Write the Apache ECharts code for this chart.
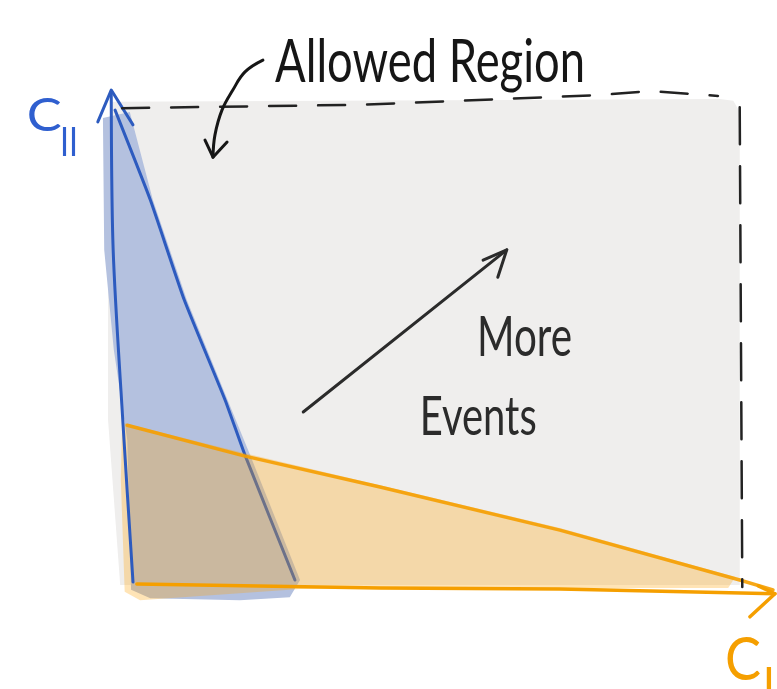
<!DOCTYPE html>
<html><head><meta charset="utf-8">
<script src="https://cdn.jsdelivr.net/npm/echarts@6/dist/echarts.min.js"></script>
<style>html,body{margin:0;padding:0;background:#fff}#c{width:777px;height:689px}</style>
</head><body><div id="c"></div>
<script>
// Sketch coordinates in abstract units (C_I on x, C_II on y, both 0..10)
const grayX = [-0.20, -0.39, -0.39, -0.33, 9.17, 9.38, 9.48, 9.48];
const grayY = [-0.04, 3.33, 6.80, 9.82, 9.88, 9.84, 9.61, -0.04];

const dashTopX = [-0.17, 3.55, 7.30, 8.08, 9.14];
const dashTopY = [9.69, 9.76, 9.96, 10.04, 9.94];
const dashRightX = [9.48, 9.52];
const dashRightY = [9.71, -0.08];

const blueFillX = [-0.47, -0.05, 0.31, 0.84, 1.48, 1.83, 2.61, 2.45, 1.67, 0.27, -0.03, -0.09, -0.30, -0.45];
const blueFillY = [9.49, 9.61, 7.82, 5.78, 3.73, 2.61, 0.06, -0.29, -0.35, -0.31, -0.14, 2.92, 4.76, 6.80];

const yAxisLineX = [0, -0.16, -0.31, -0.34];
const yAxisLineY = [0.02, 3.33, 6.80, 10.04];
const yArrowX = [-0.55, -0.34, 0];
const yArrowY = [9.41, 10.06, 9.35];

const blueEdgeX = [-0.28, 0.27, 0.80, 1.44, 1.75, 2.53];
const blueEdgeY = [9.65, 7.82, 5.78, 3.73, 2.61, 0.06];

const orangeFillX = [-0.17, 1.75, 6.67, 9.41, 9.30, 6.67, 2.61, 0.11, -0.13, -0.19];
const orangeFillY = [3.27, 2.65, 1.12, 0.12, -0.10, -0.10, -0.12, -0.35, -0.18, 2.10];

const orangeEdgeX = [-0.09, 1.75, 3.86, 6.67, 9.48, 10.0];
const orangeEdgeY = [3.22, 2.59, 1.96, 1.08, 0.06, -0.14];

const xAxisLineX = [0.06, 3.86, 6.67, 10.03];
const xAxisLineY = [-0.02, -0.10, -0.12, -0.22];
const xArrowX = [9.77, 10.03, 9.64];
const xArrowY = [-0.06, -0.22, -0.69];

const allowedArrowX = [2.03, 1.75, 1.56, 1.39, 1.28, 1.25];
const allowedArrowY = [10.67, 10.43, 10.06, 9.65, 9.14, 8.69];
const allowedHeadX = [1.125, 1.25, 1.47];
const allowedHeadY = [9.04, 8.69, 9.00];

const moreArrowX = [2.66, 5.84];
const moreArrowY = [3.49, 6.80];
const moreHeadX = [5.47, 5.84, 5.70];
const moreHeadY = [6.59, 6.80, 6.24];

// text labels, anchored at their left edge / vertical middle
const textLabels = ['Allowed Region', 'More', 'Events', 'C', 'II', 'C', 'I'];
const textX = [2.22, 5.375, 4.48, -1.66, -1.14, 9.25, 9.84];
const textY = [10.61, 5.00, 3.37, 9.53, 8.98, -1.59, -2.08];

const BLUE = '#2d5bbf', ORANGE = '#f59f00', INK = '#161616';
const FONT = "Lato, 'Liberation Sans', sans-serif";
const textStyles = [
  {fontSize: 60, color: INK, width: 310},
  {fontSize: 56, color: '#2b2b2b', width: 95},
  {fontSize: 54, color: '#2b2b2b', width: 117},
  {fontSize: 46, color: '#2f5fcf', width: 35},
  {fontSize: 40, color: '#2f5fcf', width: 18},
  {fontSize: 60, color: ORANGE, width: 36},
  {fontSize: 44, color: ORANGE, width: 0}
];

const measureCtx = document.createElement('canvas').getContext('2d');
function textScale(t, st) {
  if (!st.width) return 1;
  measureCtx.font = st.fontSize + 'px ' + FONT;
  return st.width / measureCtx.measureText(t).width;
}

function pts(xs, ys) { return xs.map((x, i) => [x, ys[i]]); }

function polygonSeries(xs, ys, fill, z) {
  const data = pts(xs, ys);
  return {
    type: 'custom', coordinateSystem: 'cartesian2d', clip: false, silent: true, z: z,
    data: data,
    renderItem: function (params, api) {
      if (params.dataIndex !== 0) return null;
      return {type: 'polygon', shape: {points: data.map(p => api.coord(p))}, style: {fill: fill}};
    }
  };
}
function polylineSeries(xs, ys, color, width, z, opts) {
  const data = pts(xs, ys);
  opts = opts || {};
  return {
    type: 'custom', coordinateSystem: 'cartesian2d', clip: false, silent: true, z: z,
    data: data,
    renderItem: function (params, api) {
      if (params.dataIndex !== 0) return null;
      return {
        type: 'polyline',
        shape: {points: data.map(p => api.coord(p)), smooth: opts.smooth || 0},
        style: {stroke: color, lineWidth: width, fill: null, lineCap: 'round', lineJoin: 'round',
          lineDash: opts.dash || null, opacity: opts.opacity == null ? 1 : opts.opacity}
      };
    }
  };
}

const textSeries = {
  type: 'custom', coordinateSystem: 'cartesian2d', clip: false, silent: true, z: 20,
  data: pts(textX, textY),
  renderItem: function (params, api) {
    const i = params.dataIndex;
    const st = textStyles[i];
    const p = api.coord([textX[i], textY[i]]);
    return {
      type: 'text', x: p[0], y: p[1], scaleX: textScale(textLabels[i], st),
      style: {text: textLabels[i], fill: st.color, font: st.fontSize + 'px ' + FONT,
        textAlign: 'left', textVerticalAlign: 'middle', align: 'left', verticalAlign: 'middle'}
    };
  }
};

const series = [
  polygonSeries(grayX, grayY, '#efeeed', 1),
  polygonSeries(blueFillX, blueFillY, '#b4c1df', 2),
  polylineSeries(blueEdgeX, blueEdgeY, BLUE, 3, 3, {smooth: 0.15}),
  polygonSeries(orangeFillX, orangeFillY, 'rgba(254,165,13,0.3)', 4),
  polylineSeries(orangeEdgeX, orangeEdgeY, ORANGE, 3.5, 5, {opacity: 0.9}),
  polylineSeries(xAxisLineX, xAxisLineY, ORANGE, 3.5, 5),
  polylineSeries(xArrowX, xArrowY, ORANGE, 3.5, 5),
  polylineSeries(yAxisLineX, yAxisLineY, BLUE, 3, 6, {smooth: 0.3}),
  polylineSeries(yArrowX, yArrowY, BLUE, 3, 6),
  polylineSeries(dashTopX, dashTopY, '#222', 2.5, 7, {dash: [27, 22]}),
  polylineSeries(dashRightX, dashRightY, '#222', 2.5, 7, {dash: [37, 22]}),
  polylineSeries(allowedArrowX, allowedArrowY, INK, 3, 8, {smooth: 0.4}),
  polylineSeries(allowedHeadX, allowedHeadY, INK, 3, 8),
  polylineSeries(moreArrowX, moreArrowY, '#2b2b2b', 3, 8),
  polylineSeries(moreHeadX, moreHeadY, '#2b2b2b', 3, 8),
  textSeries
];

const chart = echarts.init(document.getElementById('c'), null, {renderer: 'canvas'});
chart.setOption({
  animation: false,
  backgroundColor: '#ffffff',
  grid: {left: 133, right: 4, top: 93, bottom: 106},
  xAxis: {type: 'value', min: 0, max: 10, show: false},
  yAxis: {type: 'value', min: 0, max: 10, show: false},
  series: series
});
</script></body></html>
